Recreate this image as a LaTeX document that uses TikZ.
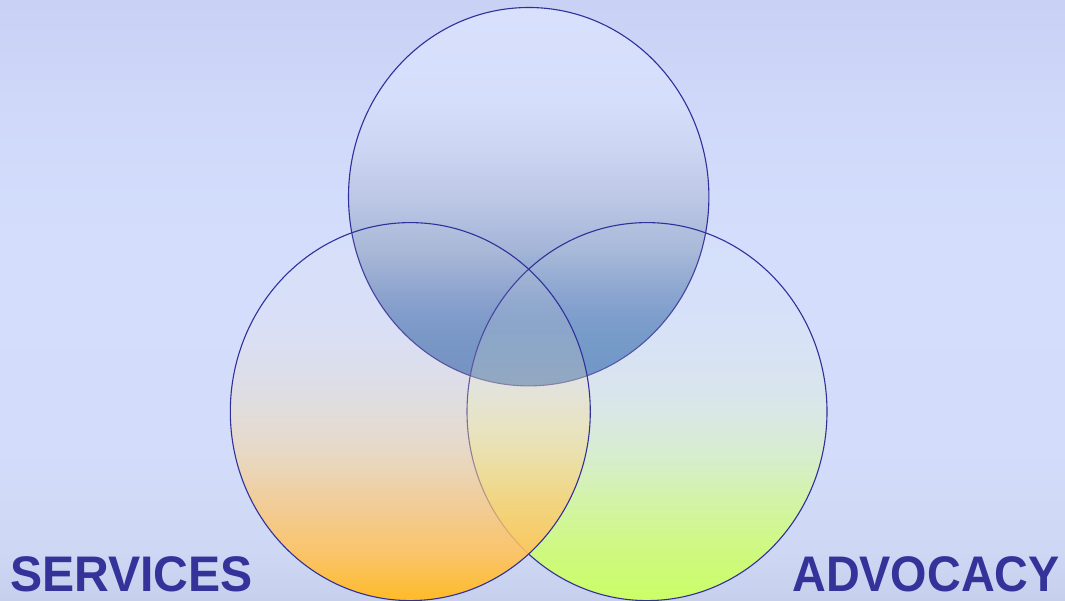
\documentclass[tikz,border=0pt]{standalone}
\usepackage{fontspec}
\setmainfont{Liberation Sans}
\usetikzlibrary{fadings}
\definecolor{txtblue}{HTML}{333399}
\definecolor{edgeblue}{HTML}{30309A}
% background
\definecolor{bgA}{RGB}{201,209,244}
\definecolor{bgB}{RGB}{207,216,249}
\definecolor{bgC}{RGB}{212,222,252}
\definecolor{bgD}{RGB}{211,221,251}
\definecolor{bgE}{RGB}{206,216,244}
\definecolor{bgF}{RGB}{198,207,236}
\pgfdeclareverticalshading{bgshade}{100bp}{color(0bp)=(bgF); color(25bp)=(bgF); color(29.2bp)=(bgE); color(37.6bp)=(bgD); color(54.2bp)=(bgC); color(66.7bp)=(bgB); color(75bp)=(bgA); color(100bp)=(bgA)}
% top circle
\definecolor{tA}{RGB}{216,224,252}
\definecolor{tB}{RGB}{213,222,250}
\definecolor{tC}{RGB}{204,213,241}
\definecolor{tD}{RGB}{188,199,230}
\definecolor{tE}{RGB}{164,181,216}
\definecolor{tF}{RGB}{124,153,205}
\definecolor{tG}{RGB}{96,137,198}
\definecolor{tH}{RGB}{70,118,200}
\pgfdeclareverticalshading{topshade}{100bp}{color(0bp)=(tH); color(25bp)=(tH); color(31.1bp)=(tG); color(36.4bp)=(tF); color(43bp)=(tE); color(49.6bp)=(tD); color(56.2bp)=(tC); color(62.8bp)=(tB); color(75bp)=(tA); color(100bp)=(tA)}
% left circle
\definecolor{lA}{RGB}{255,240,230}
\definecolor{lB}{RGB}{255,232,210}
\definecolor{lC}{RGB}{255,225,170}
\definecolor{lD}{RGB}{255,213,140}
\definecolor{lE}{RGB}{255,200,115}
\definecolor{lF}{RGB}{255,195,94}
\definecolor{lG}{RGB}{255,187,40}
\pgfdeclareverticalshading{leftshade}{100bp}{color(0bp)=(lG); color(25bp)=(lG); color(31.7bp)=(lF); color(38.3bp)=(lE); color(44.9bp)=(lD); color(53.4bp)=(lC); color(62.1bp)=(lB); color(75bp)=(lA); color(100bp)=(lA)}
% right circle
\definecolor{rA}{RGB}{235,250,240}
\definecolor{rB}{RGB}{238,252,225}
\definecolor{rC}{RGB}{238,252,200}
\definecolor{rD}{RGB}{221,255,163}
\definecolor{rE}{RGB}{212,255,132}
\definecolor{rF}{RGB}{207,253,116}
\definecolor{rG}{RGB}{204,255,102}
\pgfdeclareverticalshading{rightshade}{100bp}{color(0bp)=(rG); color(25bp)=(rG); color(31.7bp)=(rF); color(38.3bp)=(rE); color(44.9bp)=(rD); color(53.4bp)=(rC); color(62.1bp)=(rB); color(75bp)=(rA); color(100bp)=(rA)}
% fading of the lower circles (white = opaque)
\pgfdeclareverticalshading{lowfadeshade}{100bp}{color(0bp)=(white); color(25bp)=(white); color(31.7bp)=(white!90!black); color(38.3bp)=(white!70!black); color(44.9bp)=(white!47!black); color(53.4bp)=(white!25!black); color(62.1bp)=(white!12!black); color(75bp)=(white!5!black); color(100bp)=(white!5!black)}
\pgfdeclarefading{lowfade}{\pgfuseshading{lowfadeshade}}
\tikzset{
  ring/.style={draw=edgeblue, line width=1.1pt},
  lbl/.style={font=\fontsize{50}{50}\selectfont\bfseries, text=txtblue, inner sep=0pt},
}
\begin{document}
\begin{tikzpicture}[x=1pt,y=1pt]
\useasboundingbox (0,0) rectangle (1065,-601);
\shade[shading=bgshade] (0,0) rectangle (1065,-601);
% top circle
\shade[shading=topshade] (528.7,-196.7) ellipse [x radius=180.2, y radius=189.2];
\draw[ring] (528.7,-196.7) ellipse [x radius=180.2, y radius=189.2];
% right circle
\shade[shading=rightshade, path fading=lowfade] (647,-411.6) ellipse [x radius=180, y radius=189];
\draw[ring] (647,-411.6) ellipse [x radius=180, y radius=189];
% left circle
\shade[shading=leftshade, path fading=lowfade] (410.3,-411.6) ellipse [x radius=180, y radius=189];
\draw[ring] (410.3,-411.6) ellipse [x radius=180, y radius=189];
% labels
\node[lbl, anchor=base west, xscale=0.963] (services) at (10,-591) {SERVICES};
\node[lbl, anchor=base east, xscale=0.935] (advocacy) at (1060,-591) {ADVOCACY};
\end{tikzpicture}
\end{document}
